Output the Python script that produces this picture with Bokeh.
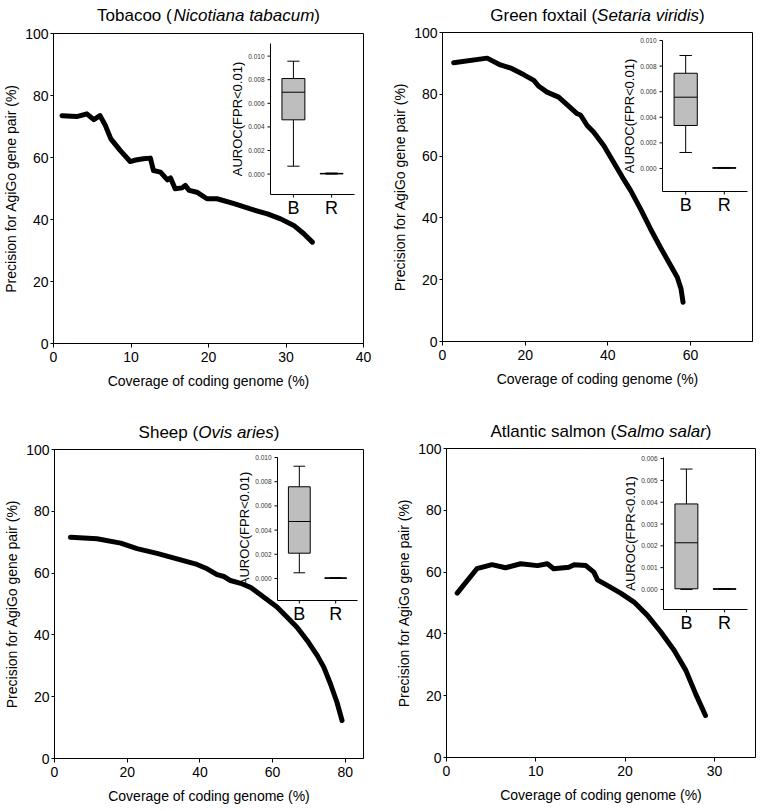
import math
from bokeh.plotting import figure
from bokeh.layouts import column, row
from bokeh.models import Range1d, FixedTicker
from bokeh.core.properties import value
from bokeh.embed import file_html
from bokeh.resources import INLINE

FONT = "Liberation Sans"

# ---------------- data ----------------
species_common = ["Tobacoo", "Green foxtail", "Sheep", "Atlantic salmon"]
species_latin = ["Nicotiana tabacum", "Setaria viridis", "Ovis aries", "Salmo salar"]

tobacco_cov = [1.1, 3.0, 4.3, 5.2, 6.0, 6.7, 7.4, 8.6, 9.9, 10.6, 11.6, 12.5, 12.9, 13.8,
               14.7, 15.1, 15.7, 16.6, 17.0, 17.5, 18.5, 19.8, 21.1, 23.3, 25.4, 27.6,
               29.3, 31.0, 32.3, 33.4]
tobacco_prec = [73.5, 73.2, 74.1, 72.2, 73.5, 70.3, 66.0, 62.3, 58.7, 59.2, 59.6, 59.8, 55.8,
                55.3, 52.8, 53.4, 49.9, 50.2, 51.0, 49.4, 48.8, 46.7, 46.7, 45.1, 43.4, 41.8,
                40.2, 38.1, 35.4, 32.7]

setaria_cov = [2.7, 10.8, 14.0, 16.5, 19.7, 22.1, 23.3, 25.3, 28.1, 30.6, 32.6, 33.4, 35.0,
               36.6, 39.0, 41.4, 43.5, 45.5, 47.9, 50.3, 52.7, 55.2, 56.8, 57.7, 58.2]
setaria_prec = [90.2, 91.7, 89.5, 88.5, 86.3, 84.5, 82.6, 80.7, 79.1, 76.1, 73.7, 73.3, 69.9,
                67.7, 63.4, 58.0, 53.2, 48.9, 42.9, 36.5, 30.5, 24.6, 20.8, 17.1, 12.7]

sheep_cov = [4.4, 11.7, 18.2, 22.7, 28.2, 33.7, 39.2, 42.0, 44.7, 46.6, 48.4, 51.2, 53.9,
             57.6, 61.2, 64.0, 66.7, 69.5, 72.3, 74.1, 75.9, 77.7, 79.1]
sheep_prec = [71.6, 71.1, 69.7, 67.9, 66.4, 64.6, 62.8, 61.4, 59.5, 58.9, 57.6, 56.7, 55.4,
              52.2, 49.0, 45.7, 42.5, 38.2, 33.3, 29.5, 24.2, 18.2, 12.3]

salmon_cov = [1.2, 3.4, 5.1, 6.6, 8.3, 10.2, 11.3, 12.0, 13.7, 14.3, 15.6, 16.5, 16.9, 18.0,
              19.5, 21.0, 22.5, 24.0, 25.5, 26.8, 27.9, 29.0]
salmon_prec = [53.2, 61.1, 62.4, 61.4, 62.7, 62.1, 62.7, 61.1, 61.6, 62.4, 62.1, 60.0, 57.5,
               55.7, 53.2, 50.3, 46.0, 40.6, 34.6, 28.2, 20.6, 13.6]

curves_x = [tobacco_cov, setaria_cov, sheep_cov, salmon_cov]
curves_y = [tobacco_prec, setaria_prec, sheep_prec, salmon_prec]

x_tick_sets = [[0, 10, 20, 30, 40], [0, 20, 40, 60], [0, 20, 40, 60, 80], [0, 10, 20, 30]]
x_max = [40, 75, 85, 34.6]
y_ticks = [0, 20, 40, 60, 80, 100]

# inset box plots (AUROC at FPR<0.01); groups B and R
box_groups = ["B", "R"]
box_pos = [1, 2]
b_low = [0.00067, 0.00125, 0.00047, 0.0]
b_q1 = [0.0046, 0.00336, 0.00209, 0.00003]
b_med = [0.00694, 0.00557, 0.00471, 0.00214]
b_q3 = [0.0081, 0.00744, 0.00758, 0.00392]
b_high = [0.00957, 0.00883, 0.00928, 0.00552]
r_low = [0.0, 0.0, 0.0, 0.0]
r_q1 = [0.00002, 0.00002, 0.00001, 0.00001]
r_med = [0.00004, 0.00004, 0.00003, 0.00002]
r_q3 = [0.00006, 0.00006, 0.00005, 0.00003]
r_high = [0.00009, 0.00008, 0.00007, 0.00004]

inset_ticks = [[0.000, 0.002, 0.004, 0.006, 0.008, 0.010],
               [0.000, 0.002, 0.004, 0.006, 0.008, 0.010],
               [0.000, 0.002, 0.004, 0.006, 0.008, 0.010],
               [0.000, 0.001, 0.002, 0.003, 0.004, 0.005, 0.006]]
inset_tick_labels = [["0.000", "0.002", "0.004", "0.006", "0.008", "0.010"],
                     ["0.000", "0.002", "0.004", "0.006", "0.008", "0.010"],
                     ["0.000", "0.002", "0.004", "0.006", "0.008", "0.010"],
                     ["0.000", "0.001", "0.002", "0.003", "0.004", "0.005", "0.006"]]
inset_ylim = [(-0.00173, 0.01107), (-0.0018, 0.0100), (-0.00182, 0.0100), (-0.00092, 0.00605)]

# ---------------- layout (pixels) ----------------
# th: title strip height, ty: title centre measured from strip bottom
layouts = [
    dict(fw=310, fh=310, bl=53, br=17, th=25, ty=10, bt=8, bb=57, inset=(217, 301, 10, 161)),
    dict(fw=310, fh=309, bl=62, br=5, th=24, ty=9, bt=8, bb=59, inset=(220, 305, 8, 159)),
    dict(fw=309, fh=309, bl=54, br=17, th=41, ty=9, bt=8, bb=50, inset=(223, 303, 8, 151)),
    dict(fw=309, fh=309, bl=66, br=2, th=40, ty=9, bt=8, bb=51, inset=(217, 301, 9, 161)),
]

# Arial / Liberation Sans advance widths (1/1000 em)
CW = {' ': 278, '(': 333, ')': 333, 'A': 667, 'B': 667, 'C': 722, 'G': 778, 'N': 722,
      'O': 778, 'R': 722, 'S': 667, 'T': 611, 'a': 556, 'b': 556, 'c': 500, 'd': 556,
      'e': 556, 'f': 278, 'g': 556, 'h': 556, 'i': 222, 'l': 222, 'm': 833, 'n': 556,
      'o': 556, 'p': 556, 'r': 333, 's': 500, 't': 278, 'u': 556, 'v': 500, 'x': 500}


def tw(s, size):
    return sum(CW.get(c, 556) for c in s) * size / 1000.0


def make_title(i):
    L = layouts[i]
    fw, H = L["fw"], L["th"]
    t = figure(frame_width=fw, height=H, x_range=Range1d(0, fw), y_range=Range1d(0, H),
               min_border_left=L["bl"], min_border_right=L["br"],
               min_border_top=0, min_border_bottom=0,
               x_axis_location=None, y_axis_location=None,
               output_backend="svg", toolbar_location=None, title=None)
    t.grid.visible = False
    t.outline_line_color = None
    t.background_fill_color = "white"
    t.border_fill_color = "white"
    fs = 17
    parts = [(species_common[i] + " (", "normal"), (species_latin[i], "italic"), (")", "normal")]
    widths = [tw(s, fs) for s, _ in parts]
    xpos = fw / 2.0 - sum(widths) / 2.0
    for (s, st), w in zip(parts, widths):
        t.text(x=[xpos], y=[L["ty"]], text=[s], text_font=value(FONT),
               text_font_size=value(f"{fs}px"), text_font_style=value(st),
               text_align="left", text_baseline="middle", text_color="black")
        xpos += w
    return t


def make_panel(i):
    L = layouts[i]
    fw, fh = L["fw"], L["fh"]
    p = figure(frame_width=fw, frame_height=fh,
               min_border_left=L["bl"], min_border_right=L["br"],
               min_border_top=L["bt"], min_border_bottom=L["bb"],
               x_range=Range1d(0, x_max[i]), y_range=Range1d(0, 100),
               output_backend="svg", toolbar_location=None, title=None)
    p.grid.visible = False
    p.outline_line_color = "black"
    p.outline_line_width = 1
    p.background_fill_color = "white"
    p.border_fill_color = "white"

    p.xaxis.ticker = FixedTicker(ticks=x_tick_sets[i])
    p.yaxis.ticker = FixedTicker(ticks=y_ticks)
    for ax in (p.xaxis[0], p.yaxis[0]):
        ax.major_tick_in = 0
        ax.minor_tick_in = 0
        ax.minor_tick_out = 0
        ax.axis_line_color = "black"
        ax.major_tick_line_color = "black"
        ax.major_label_text_font = FONT
        ax.major_label_text_font_size = "14px"
        ax.major_label_text_color = "black"
        ax.axis_label_text_font = FONT
        ax.axis_label_text_font_size = "14px"
        ax.axis_label_text_font_style = "normal"
        ax.axis_label_text_color = "black"
    p.xaxis.major_tick_out = 4
    p.xaxis.major_label_standoff = 4
    p.xaxis.axis_label_standoff = 8
    p.yaxis.major_tick_out = 3
    p.yaxis.major_label_standoff = 2
    p.yaxis.axis_label_standoff = 3
    p.xaxis.axis_label = "Coverage of coding genome (%)"
    p.yaxis.axis_label = "Precision for AgiGo gene pair (%)"

    # main curve
    p.line(curves_x[i], curves_y[i], line_width=5, line_color="black",
           line_join="round", line_cap="round")

    # inset ranges
    il, ir, it, ib = L["inset"]
    x0, x1 = 0.4, 2.6
    ymin, ymax = inset_ylim[i]
    ppx = (ir - il) / (x1 - x0)
    xs = x0 - il / ppx
    ppy = (ib - it) / (ymax - ymin)
    ys = ymin - (fh - ib) / ppy
    p.extra_x_ranges = {"ix": Range1d(xs, xs + fw / ppx)}
    p.extra_y_ranges = {"iy": Range1d(ys, ys + fh / ppy)}
    kw = dict(x_range_name="ix", y_range_name="iy")

    # inset axes
    p.segment(x0=[x0, x0], y0=[ymin, ymin], x1=[x0, x1], y1=[ymax, ymin],
              line_color="black", line_width=1, **kw)
    tk = inset_ticks[i]
    p.segment(x0=[x0] * len(tk), y0=tk, x1=[x0 - 3.0 / ppx] * len(tk), y1=tk,
              line_color="black", line_width=1, **kw)
    p.segment(x0=box_pos, y0=[ymin, ymin], x1=box_pos, y1=[ymin - 3.0 / ppy] * 2,
              line_color="black", line_width=1, **kw)
    p.text(x=[x0] * len(tk), y=tk, text=inset_tick_labels[i], x_offset=-6,
           text_align="right", text_baseline="middle", text_font=value(FONT),
           text_font_size=value("6.5px"), text_color="#333333", **kw)
    p.text(x=box_pos, y=[ymin, ymin], text=box_groups, y_offset=3,
           text_align="center", text_baseline="top", text_font=value(FONT),
           text_font_size=value("18px"), text_color="black", **kw)
    p.text(x=[x0], y=[(ymin + ymax) / 2.0], text=["AUROC(FPR<0.01)"], angle=math.pi / 2,
           x_offset=-33, text_align="center", text_baseline="middle",
           text_font=value(FONT), text_font_size=value("13px"), text_color="black", **kw)

    # box plots
    low = [b_low[i], r_low[i]]
    q1 = [b_q1[i], r_q1[i]]
    med = [b_med[i], r_med[i]]
    q3 = [b_q3[i], r_q3[i]]
    high = [b_high[i], r_high[i]]
    bw, cw = 0.6, 0.32
    p.segment(x0=box_pos, y0=q3, x1=box_pos, y1=high, line_color="black", line_width=1, **kw)
    p.segment(x0=box_pos, y0=low, x1=box_pos, y1=q1, line_color="black", line_width=1, **kw)
    p.segment(x0=[b - cw / 2 for b in box_pos], y0=high, x1=[b + cw / 2 for b in box_pos],
              y1=high, line_color="black", line_width=1, **kw)
    p.segment(x0=[b - cw / 2 for b in box_pos], y0=low, x1=[b + cw / 2 for b in box_pos],
              y1=low, line_color="black", line_width=1, **kw)
    p.vbar(x=box_pos, width=bw, bottom=q1, top=q3, fill_color="#bebebe",
           line_color="black", line_width=1, **kw)
    p.segment(x0=[b - bw / 2 for b in box_pos], y0=med, x1=[b + bw / 2 for b in box_pos],
              y1=med, line_color="black", line_width=1, **kw)
    return p


cells = [column(make_title(i), make_panel(i)) for i in range(4)]
layout = column(row(cells[0], cells[1]), row(cells[2], cells[3]))
open("out.html", "w").write(file_html(layout, INLINE))
